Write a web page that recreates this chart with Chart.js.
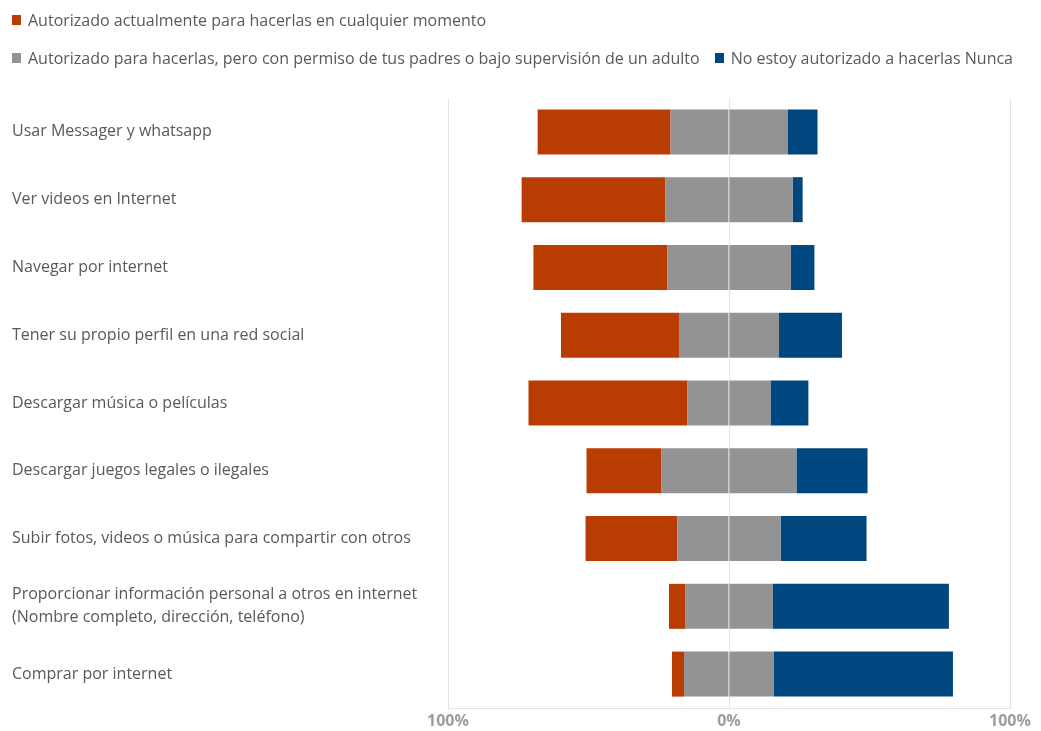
<!DOCTYPE html>
<html>
<head>
<meta charset="utf-8">
<script src="https://cdn.jsdelivr.net/npm/chart.js@4"></script>
<style>
  body { margin: 0; background: #fff; }
  #wrap { position: relative; width: 1041px; height: 731px; }
  #legend { position: absolute; left: 12px; top: 0; width: 1029px; font: 16px "Open Sans", sans-serif; color: #595959; }
  #legend .row { position: absolute; left: 0; white-space: nowrap; display: flex; align-items: center; }
  #legend .item { display: flex; align-items: center; margin-right: 15px; }
  #legend .box { width: 9px; height: 10px; margin-right: 7px; }
</style>
</head>
<body>
<div id="wrap">
  <canvas id="chart" width="1041" height="731"></canvas>
  <div id="legend"></div>
</div>
<script>
const categories = [
  'Usar Messager y whatsapp',
  'Ver videos en Internet',
  'Navegar por internet',
  'Tener su propio perfil en una red social',
  'Descargar música o películas',
  'Descargar juegos legales o ilegales',
  'Subir fotos, videos o música para compartir con otros',
  ['Proporcionar información personal a otros en internet', '(Nombre completo, dirección, teléfono)'],
  'Comprar por internet'
];
const seriesNames = [
  'Autorizado actualmente para hacerlas en cualquier momento',
  'Autorizado para hacerlas, pero con permiso de tus padres o bajo supervisión de un adulto',
  'No estoy autorizado a hacerlas Nunca'
];
const autorizado = [47.3, 51.2, 47.7, 42.0, 56.6, 26.7, 32.7, 5.7, 4.3];
const conPermiso = [41.6, 45.2, 43.8, 35.6, 29.5, 48.0, 36.7, 31.3, 32.0];
const nunca = [10.7, 3.6, 8.5, 22.4, 13.5, 25.3, 30.6, 62.6, 63.7];
const xTicks = [-100, 0, 100];

const colors = ['#b93c02', '#939393', '#00477f'];
const textColor = '#595959';

// legend in html, two rows like the original
const legendRows = [[0], [1, 2]];
const legendTops = [20, 58];
const legendEl = document.getElementById('legend');
legendRows.forEach((row, r) => {
  const div = document.createElement('div');
  div.className = 'row';
  div.style.top = (legendTops[r] - 10) + 'px';
  div.style.height = '20px';
  row.forEach(i => {
    const it = document.createElement('span');
    it.className = 'item';
    it.innerHTML = '<span class="box" style="background:' + colors[i] + '"></span>' + seriesNames[i];
    div.appendChild(it);
  });
  legendEl.appendChild(div);
});

const bar = { barPercentage: 0.664, categoryPercentage: 1, borderWidth: 0 };

new Chart(document.getElementById('chart'), {
  type: 'bar',
  data: {
    labels: categories,
    datasets: [
      { label: seriesNames[1], data: conPermiso.map(v => -v / 2), backgroundColor: colors[1], ...bar },
      { label: seriesNames[0], data: autorizado.map(v => -v), backgroundColor: colors[0], ...bar },
      { label: seriesNames[1], data: conPermiso.map(v => v / 2), backgroundColor: colors[1], ...bar },
      { label: seriesNames[2], data: nunca, backgroundColor: colors[2], ...bar }
    ]
  },
  options: {
    indexAxis: 'y',
    responsive: false,
    animation: false,
    layout: { padding: { top: 98, left: 12, right: 31, bottom: 0 } },
    plugins: { legend: { display: false }, tooltip: { enabled: false } },
    scales: {
      x: {
        stacked: true,
        min: -100,
        max: 100,
        z: 1,
        afterBuildTicks: s => { s.ticks = xTicks.map(v => ({ value: v })); },
        afterFit: s => { s.height = 23; },
        grid: { color: '#e3e3e3', drawTicks: false },
        border: { color: '#e3e3e3' },
        ticks: {
          padding: 4,
          color: '#9d9d9d',
          font: { family: 'Open Sans', size: 16, weight: 'bold' },
          callback: v => Math.abs(v) + '%'
        }
      },
      y: {
        stacked: true,
        afterFit: s => { s.width = 436; },
        grid: { display: false },
        border: { display: false },
        ticks: {
          crossAlign: 'far',
          color: textColor,
          font: { family: 'Open Sans', size: 16, lineHeight: 1.45 }
        }
      }
    }
  }
});
</script>
</body>
</html>
